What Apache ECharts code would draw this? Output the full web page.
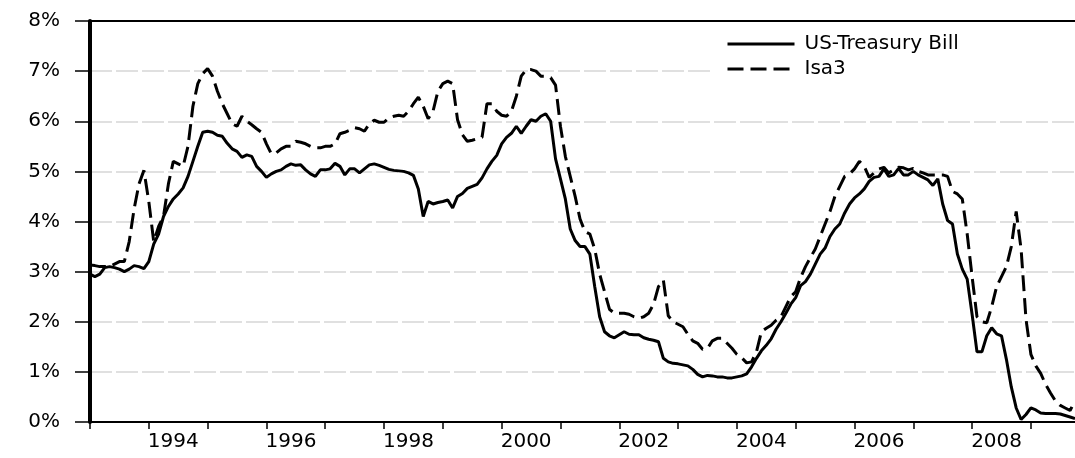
<!DOCTYPE html>
<html>
<head>
<meta charset="utf-8">
<script src="https://cdn.jsdelivr.net/npm/echarts@6/dist/echarts.min.js"></script>
<style>
  html, body { margin: 0; padding: 0; background: #fff; }
  #chart { width: 1075px; height: 458px; }
</style>
</head>
<body>
<div id="chart"></div>
<script>
// monthly observations, 1993M01 .. 2009M10
const startYear = 1993
const labelYears = [1994, 1996, 1998, 2000, 2002, 2004, 2006, 2008]

// US 3-month Treasury bill, %
const tbill = [
  2.95, 2.9, 2.95, 3.08, 3.1, 3.08, 3.05, 3.0, 3.05, 3.12, 3.1, 3.06,      // 1993
  3.2, 3.55, 3.75, 4.1, 4.3, 4.45, 4.55, 4.67, 4.9, 5.2, 5.5, 5.78,        // 1994
  5.8, 5.78, 5.72, 5.7, 5.56, 5.45, 5.4, 5.28, 5.33, 5.3, 5.1, 5.0,        // 1995
  4.88, 4.95, 5.0, 5.03, 5.1, 5.15, 5.12, 5.13, 5.03, 4.95, 4.9, 5.03,     // 1996
  5.03, 5.05, 5.16, 5.1, 4.93, 5.05, 5.05, 4.97, 5.05, 5.13, 5.15, 5.12,   // 1997
  5.08, 5.04, 5.02, 5.01, 5.0, 4.97, 4.92, 4.65, 4.1, 4.4, 4.35, 4.38,     // 1998
  4.4, 4.43, 4.27, 4.5, 4.56, 4.66, 4.7, 4.74, 4.87, 5.05, 5.2, 5.32,      // 1999
  5.55, 5.68, 5.76, 5.9, 5.76, 5.9, 6.03, 6.0, 6.1, 6.15, 6.0, 5.25,      // 2000
  4.85, 4.45, 3.85, 3.62, 3.5, 3.5, 3.35, 2.7, 2.1, 1.8, 1.72, 1.68,      // 2001
  1.74, 1.8, 1.75, 1.74, 1.74, 1.68, 1.65, 1.63, 1.6, 1.27, 1.2, 1.17,    // 2002
  1.16, 1.14, 1.12, 1.05, 0.95, 0.9, 0.93, 0.92, 0.9, 0.9, 0.88, 0.88,    // 2003
  0.9, 0.92, 0.96, 1.1, 1.27, 1.42, 1.53, 1.66, 1.85, 2.0, 2.17, 2.35,    // 2004
  2.48, 2.72, 2.8, 2.95, 3.15, 3.35, 3.47, 3.7, 3.85, 3.95, 4.17, 4.35,   // 2005
  4.47, 4.55, 4.65, 4.8, 4.88, 4.9, 5.05, 4.9, 4.93, 5.06, 4.93, 4.93,    // 2006
  5.0, 4.93, 4.88, 4.83, 4.72, 4.85, 4.35, 4.02, 3.95, 3.35, 3.05, 2.85,  // 2007
  2.15, 1.4, 1.4, 1.72, 1.88, 1.76, 1.72, 1.25, 0.7, 0.28, 0.05, 0.15,    // 2008
  0.28, 0.24, 0.18, 0.17, 0.17, 0.17, 0.16, 0.13, 0.1, 0.07               // 2009
]

// Isa3, %
const isa3 = [
  3.13, 3.12, 3.1, 3.1, 3.1, 3.15, 3.2, 3.2, 3.6, 4.25, 4.75, 5.02,       // 1993
  4.4, 3.6, 3.9, 4.1, 4.75, 5.2, 5.15, 5.1, 5.5, 6.3, 6.75, 6.95,         // 1994
  7.05, 6.9, 6.6, 6.35, 6.15, 5.95, 5.9, 6.1, 6.0, 5.93, 5.85, 5.78,      // 1995
  5.55, 5.35, 5.37, 5.45, 5.5, 5.5, 5.6, 5.58, 5.55, 5.5, 5.47, 5.47,     // 1996
  5.5, 5.5, 5.55, 5.75, 5.78, 5.82, 5.87, 5.85, 5.8, 5.95, 6.02, 5.98,    // 1997
  5.98, 6.07, 6.1, 6.12, 6.1, 6.2, 6.35, 6.48, 6.3, 6.05, 6.2, 6.6,       // 1998
  6.75, 6.8, 6.75, 6.03, 5.73, 5.6, 5.62, 5.65, 5.68, 6.35, 6.35, 6.2,    // 1999
  6.12, 6.1, 6.2, 6.5, 6.9, 7.03, 7.03, 7.0, 6.9, 6.9, 6.87, 6.72,        // 2000
  5.9, 5.3, 4.9, 4.5, 4.05, 3.8, 3.75, 3.45, 2.95, 2.6, 2.25, 2.17,       // 2001
  2.17, 2.17, 2.15, 2.1, 2.07, 2.1, 2.17, 2.35, 2.7, 2.83, 2.12, 2.0,     // 2002
  1.95, 1.9, 1.75, 1.62, 1.57, 1.45, 1.47, 1.62, 1.67, 1.67, 1.57, 1.47,  // 2003
  1.35, 1.28, 1.18, 1.2, 1.4, 1.8, 1.87, 1.93, 2.03, 2.1, 2.3, 2.5,       // 2004
  2.6, 2.88, 3.1, 3.28, 3.45, 3.7, 3.95, 4.2, 4.5, 4.7, 4.9, 4.95,        // 2005
  5.05, 5.2, 5.1, 4.88, 4.97, 5.05, 5.08, 4.97, 5.03, 5.08, 5.07, 5.03,   // 2006
  5.06, 5.0, 4.97, 4.93, 4.93, 4.93, 4.93, 4.9, 4.6, 4.55, 4.45, 3.75,    // 2007
  2.9, 2.1, 2.0, 1.98, 2.3, 2.7, 2.9, 3.1, 3.5, 4.2, 3.45, 2.05,          // 2008
  1.35, 1.12, 0.97, 0.75, 0.58, 0.42, 0.33, 0.28, 0.23, 0.42              // 2009
]

// category labels like 1993M01
const months = tbill.map((v, i) => {
  const m = i % 12 + 1
  return (startYear + Math.floor(i / 12)) + 'M' + (m < 10 ? '0' + m : m)
})

const font = 'DejaVu Sans'
const chart = echarts.init(document.getElementById('chart'))

chart.setOption({
  animation: false,
  grid: { left: 90, right: 0, top: 21, bottom: 36 },
  legend: {
    orient: 'vertical',
    left: 710,
    top: 22,
    padding: [12, 0, 10, 16],
    backgroundColor: '#fff',
    itemWidth: 67,
    itemHeight: 16,
    itemGap: 5,
    // hide the marker that line legends draw in the middle of the sample
    itemStyle: { opacity: 0 },
    lineStyle: { width: 3 },
    textStyle: { fontFamily: font, fontSize: 20, color: '#000', width: 330, lineHeight: 16, padding: [0, 0, 0, 5] },
    data: ['US-Treasury Bill', 'Isa3']
  },
  xAxis: [
    {
      type: 'category',
      data: months,
      boundaryGap: false,
      axisLine: { lineStyle: { color: '#000', width: 2 } },
      // tick at every January
      axisTick: {
        interval: (i) => i % 12 === 0,
        length: 7,
        lineStyle: { color: '#000', width: 1.5 }
      },
      // year label sits in the middle of its year
      axisLabel: {
        interval: (i, v) => i % 12 === 5 && labelYears.includes(+String(v).slice(0, 4)),
        formatter: (v) => v.slice(0, 4),
        color: '#000',
        fontFamily: font,
        fontSize: 20,
        margin: 10
      },
      splitLine: { show: false }
    },
    {
      // top frame line
      type: 'value',
      position: 'top',
      min: 0,
      max: 1,
      axisLine: { show: true, lineStyle: { color: '#000', width: 2 } },
      axisTick: { show: false },
      axisLabel: { show: false },
      splitLine: { show: false }
    }
  ],
  yAxis: {
    type: 'value',
    min: 0,
    max: 8,
    interval: 1,
    axisLine: { show: true, lineStyle: { color: '#000', width: 4 } },
    axisTick: { show: true, length: 15, lineStyle: { color: '#000', width: 1.5 } },
    axisLabel: { formatter: '{value}%', color: '#000', fontFamily: font, fontSize: 20, margin: 30 },
    splitLine: { lineStyle: { color: '#d6d6d6', width: 1.5, type: [22, 4] } }
  },
  series: [
    {
      name: 'US-Treasury Bill',
      type: 'line',
      data: tbill,
      symbol: 'none',
      itemStyle: { color: '#000' },
      lineStyle: { color: '#000', width: 3 }
    },
    {
      name: 'Isa3',
      type: 'line',
      data: isa3,
      symbol: 'none',
      itemStyle: { color: '#000' },
      lineStyle: { color: '#000', width: 3, type: [16, 7] }
    }
  ]
})
</script>
</body>
</html>
